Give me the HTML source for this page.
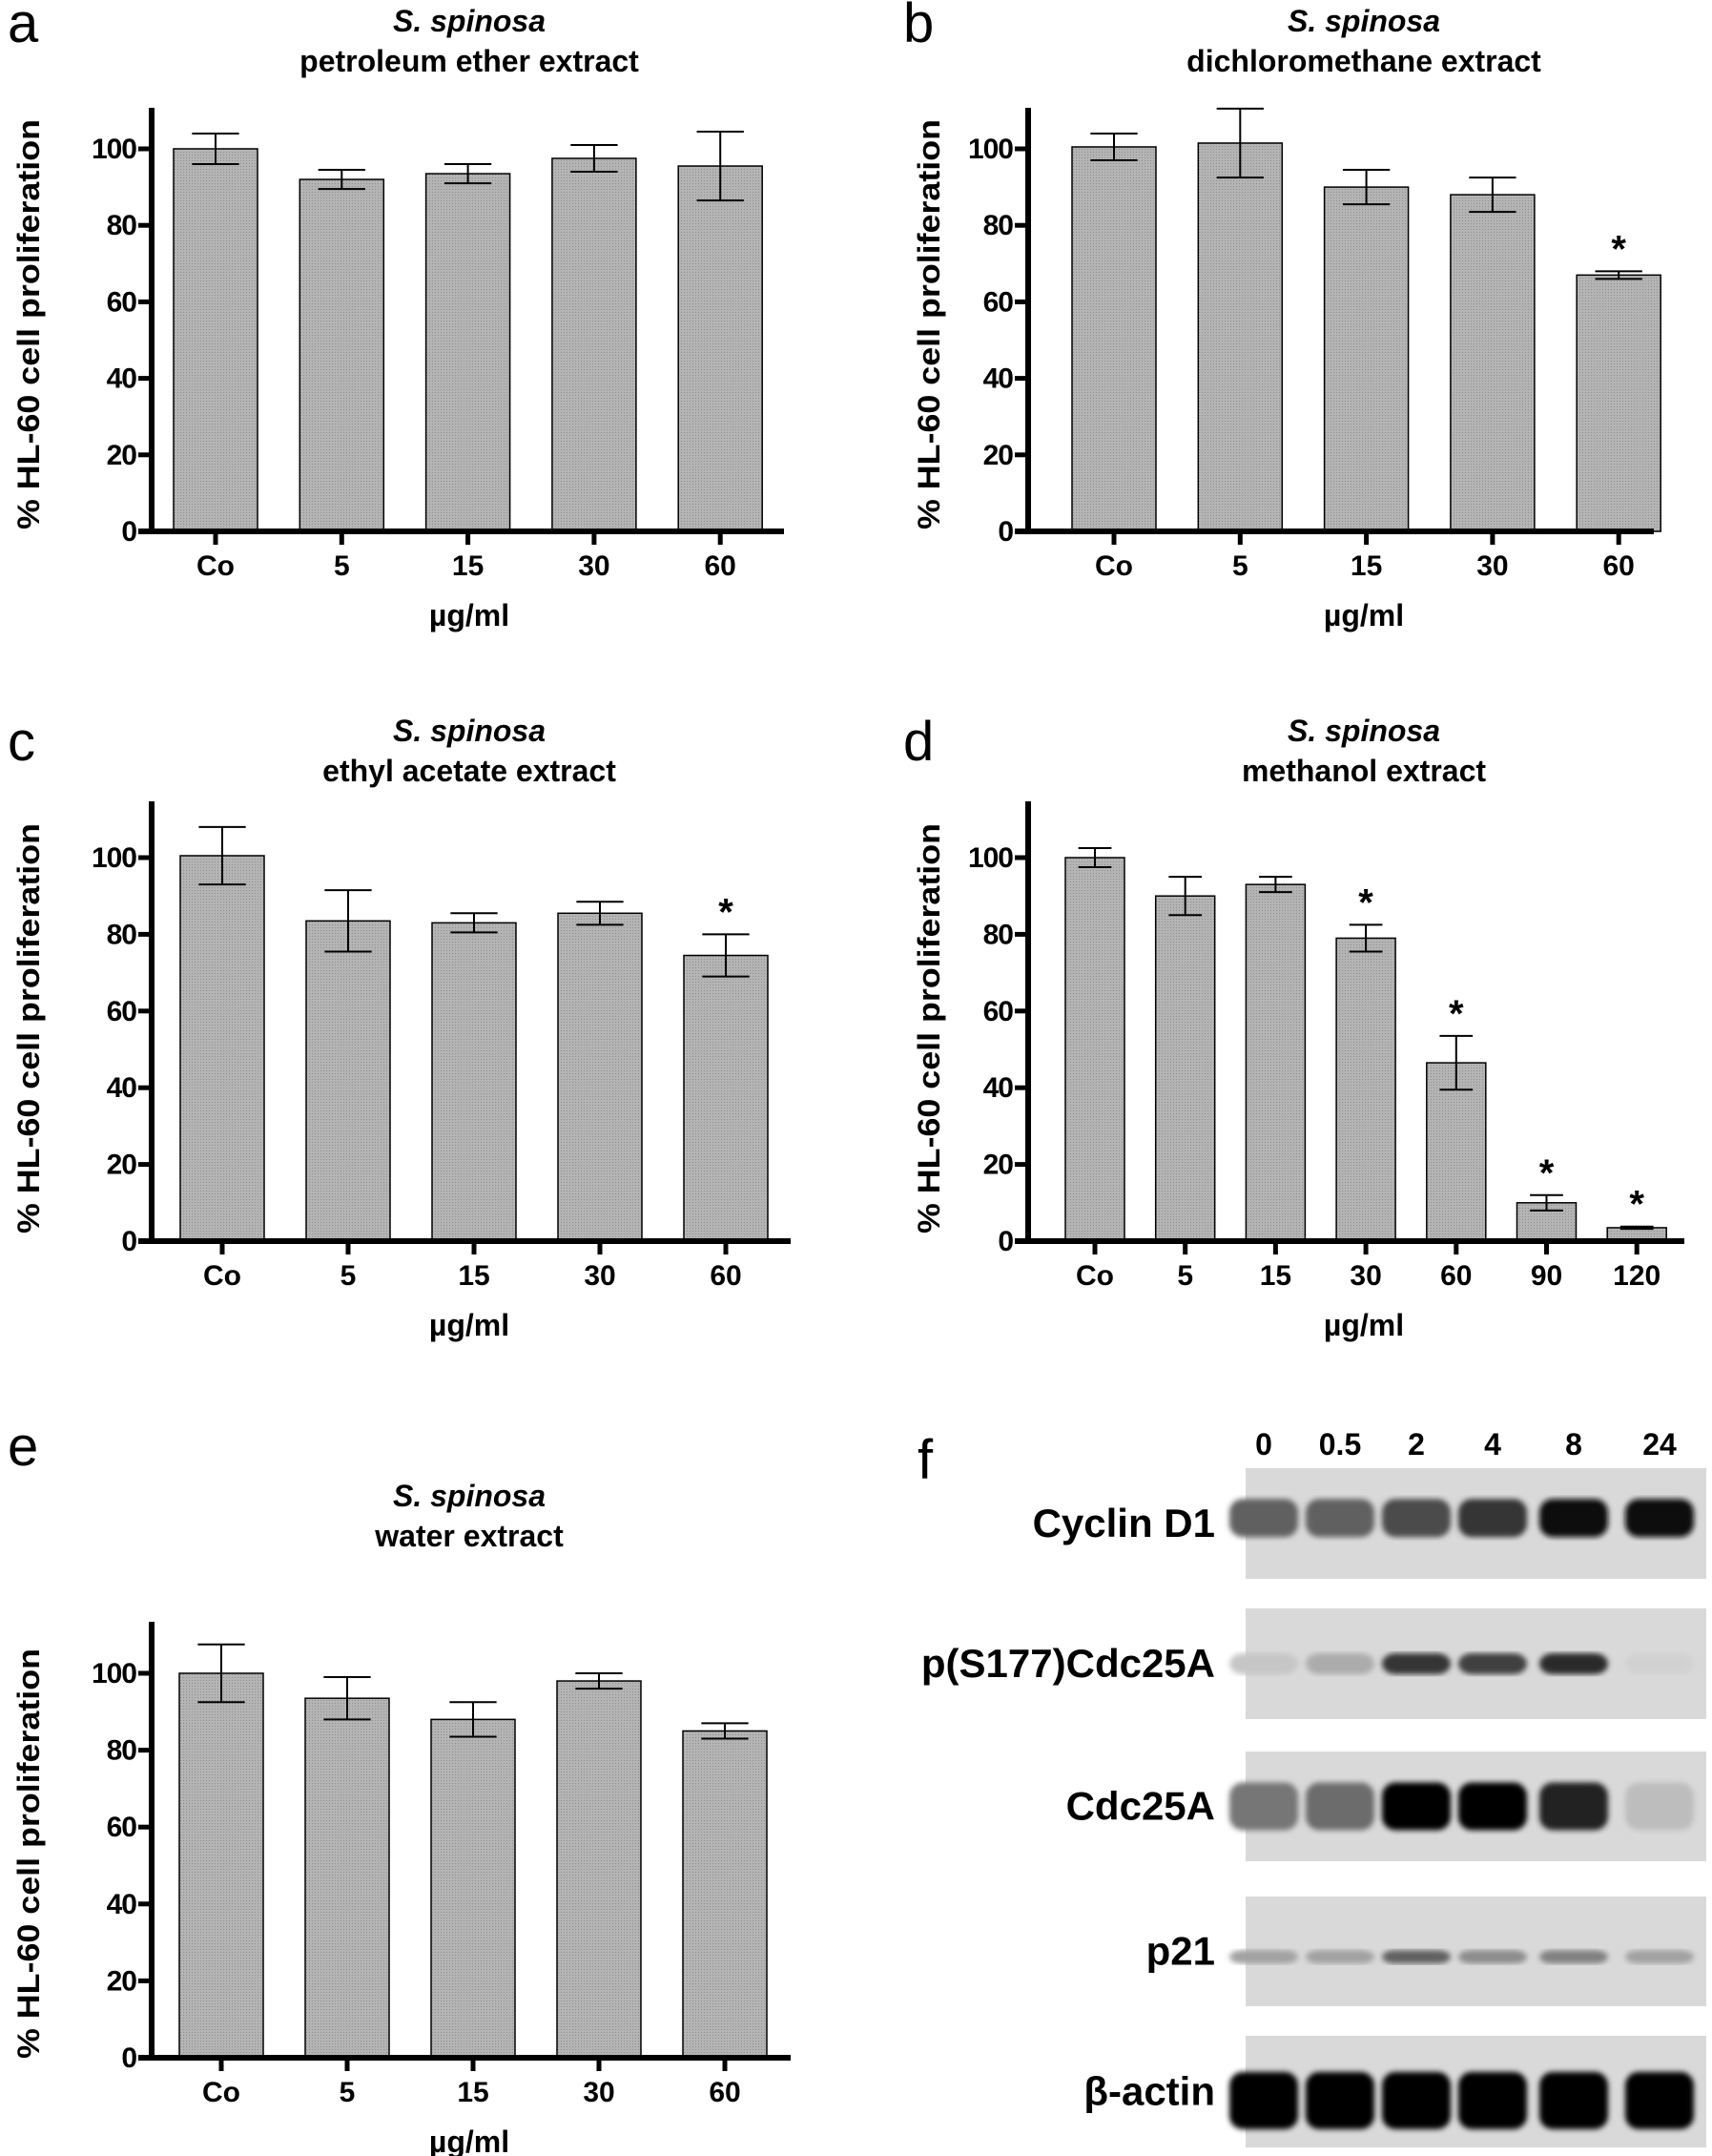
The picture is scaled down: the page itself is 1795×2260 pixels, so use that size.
<!DOCTYPE html>
<html><head><meta charset="utf-8">
<style>
html,body{margin:0;padding:0;background:#fff;}
svg{display:block;font-family:"Liberation Sans",sans-serif;}
</style></head>
<body>
<svg id="fig" width="1795" height="2260" viewBox="0 0 1795 2260" xmlns="http://www.w3.org/2000/svg">
<defs>
<pattern id="stip" width="3" height="3" patternUnits="userSpaceOnUse"><rect width="3" height="3" fill="#b4b4b4"/><rect width="1" height="1" fill="#8e8e8e"/></pattern>
<filter id="blur" x="-20%" y="-50%" width="140%" height="200%"><feGaussianBlur stdDeviation="6"/></filter>
<filter id="blur2"><feGaussianBlur stdDeviation="3"/></filter>
</defs>
</svg>
<script>
// ---- data ----
const catsA = ["Co","5","15","30","60"];
const valsA = [100,92,93.5,97.5,95.5];
const errA  = [4,2.5,2.5,3.5,9];
const sigA  = [0,0,0,0,0];
const catsB = ["Co","5","15","30","60"];
const valsB = [100.5,101.5,90,88,67];
const errB  = [3.5,9,4.5,4.5,1];
const sigB  = [0,0,0,0,1];
const catsC = ["Co","5","15","30","60"];
const valsC = [100.5,83.5,83,85.5,74.5];
const errC  = [7.5,8,2.5,3,5.5];
const sigC  = [0,0,0,0,1];
const catsD = ["Co","5","15","30","60","90","120"];
const valsD = [100,90,93,79,46.5,10,3.5];
const errD  = [2.5,5,2,3.5,7,2,0.3];
const sigD  = [0,0,0,1,1,1,1];
const catsE = ["Co","5","15","30","60"];
const valsE = [100,93.5,88,98,85];
const errE  = [7.5,5.5,4.5,2,2];
const sigE  = [0,0,0,0,0];
const yTicks = [0,20,40,60,80,100];
const lanes = ["0","0.5","2","4","8","24"];
const blotNames = ["Cyclin D1","p(S177)Cdc25A","Cdc25A","p21","β-actin"];
const cyclinInt = [0.55,0.55,0.65,0.75,0.95,0.95];
const pCdcInt  = [0.08,0.2,0.75,0.7,0.8,0.03];
const cdcInt   = [0.45,0.5,1,1,0.85,0.12];
const p21Int   = [0.25,0.25,0.55,0.35,0.4,0.25];
const actinInt = [1,1,1,1,1,1];

const NS="http://www.w3.org/2000/svg";
const svg=document.getElementById('fig');
function mk(tag,attrs,parent,text){const e=document.createElementNS(NS,tag);for(const k in attrs)e.setAttribute(k,attrs[k]);if(text!==undefined)e.textContent=text;(parent||svg).appendChild(e);return e;}

function chart(id,letter,letterPos,title2,L,cats,vals,errs,sig){
  const g=mk('g',{});
  
  
  const yS=v=>L.y0-(L.y0-L.y100)*v/100;
  const xS=i=>L.x1+i*L.dx;
  const lt=mk('text',{x:letterPos[0],y:letterPos[1],'font-size':58,fill:'#000'},g,letter);
  
  
  const t1=mk('text',{x:L.tc,y:L.ty,'font-size':32,'font-weight':'bold','font-style':'italic','text-anchor':'middle'},g,'S. spinosa');
  
  
  const t2=mk('text',{x:L.tc,y:L.ty+42,'font-size':32,'font-weight':'bold','text-anchor':'middle'},g,title2);
  
  
  vals.forEach((v,i)=>{
    const cx=xS(i);
    const r=mk('rect',{x:cx-L.bw/2,y:yS(v),width:L.bw,height:L.y0-yS(v),fill:'url(#stip)',stroke:'#000','stroke-width':1.5},g);
    
    
    const e=errs[i],hw=L.bw*0.28;
    const eb=mk('path',{d:`M${cx},${yS(v+e)}V${yS(v-e)}M${cx-hw},${yS(v+e)}H${cx+hw}M${cx-hw},${yS(v-e)}H${cx+hw}`,stroke:'#000','stroke-width':2,fill:'none'},g);
    
    
    if(sig[i]){
      const s=mk('text',{x:cx,y:yS(v+e)-10,'font-size':40,'font-weight':'bold','text-anchor':'middle'},g,'*');
      
      
    }
    const tk=mk('line',{x1:cx,x2:cx,y1:L.y0,y2:L.y0+14,stroke:'#000','stroke-width':5},g);
    
    
    const tl=mk('text',{x:cx,y:L.y0+46,'font-size':30,'font-weight':'bold','text-anchor':'middle'},g,cats[i]);
    
    
  });
  const ax=mk('path',{d:`M${L.ax},${L.top}V${L.y0}M${L.ax-14},${L.y0}H${L.right}`,stroke:'#000','stroke-width':6,fill:'none'},g);
  
  
  yTicks.forEach(t=>{
    const tk=mk('line',{x1:L.ax-14,x2:L.ax,y1:yS(t),y2:yS(t),stroke:'#000','stroke-width':5},g);
    
    
    const tl=mk('text',{x:L.ax-16,y:yS(t)+10,'font-size':30,'font-weight':'bold','text-anchor':'end','letter-spacing':-1},g,String(t));
    
    
  });
  const xl=mk('text',{x:L.tc,y:L.y0+99,'font-size':32,'font-weight':'bold','text-anchor':'middle'},g,'µg/ml');
  
  
  const yt=mk('text',{x:0,y:0,'font-size':32,'font-weight':'bold','text-anchor':'middle',textLength:430,lengthAdjust:'spacingAndGlyphs',transform:`translate(${L.yx},${L.yc}) rotate(-90)`},g,'% HL-60 cell proliferation');
  
  
}

chart('a','a',[8,44],'petroleum ether extract',{ax:159,y0:557,y100:156,top:113,right:822,x1:226,dx:132.3,bw:88,tc:492,ty:33,yx:41,yc:340},catsA,valsA,errA,sigA);
chart('b','b',[947,44],'dichloromethane extract',{ax:1078,y0:557,y100:156,top:113,right:1734,x1:1168,dx:132.3,bw:88,tc:1430,ty:33,yx:985,yc:340},catsB,valsB,errB,sigB);
chart('c','c',[8,797],'ethyl acetate extract',{ax:159,y0:1301,y100:899,top:840,right:829,x1:233,dx:132,bw:88,tc:492,ty:777,yx:41,yc:1078},catsC,valsC,errC,sigC);
chart('d','d',[947,797],'methanol extract',{ax:1078,y0:1301,y100:899,top:840,right:1766,x1:1148,dx:94.7,bw:62,tc:1430,ty:777,yx:985,yc:1078},catsD,valsD,errD,sigD);
chart('e','e',[8,1536],'water extract',{ax:159,y0:2157,y100:1754,top:1700,right:829,x1:232,dx:132,bw:88,tc:492,ty:1579,yx:41,yc:1943},catsE,valsE,errE,sigE);

// ---- western blot ----
const wb=mk('g',{});


const fl=mk('text',{x:962,y:1550,'font-size':58,fill:'#000'},wb,'f');


const laneX=[1325,1405,1485,1565,1650,1740];
lanes.forEach((l,i)=>{
  const t=mk('text',{x:laneX[i],y:1525,'font-size':32,'font-weight':'bold','text-anchor':'middle'},wb,l);
  
  
});
const boxes=[[1539,1655],[1686,1802],[1836,1951],[1988,2103],[2134,2251]];
const ints=[cyclinInt,pCdcInt,cdcInt,p21Int,actinInt];
const bandH=[40,22,50,14,60];
const bandY=[0.45,0.5,0.5,0.55,0.58];
blotNames.forEach((n,k)=>{
  const [y1,y2]=boxes[k];
  const b=mk('rect',{x:1306,y:y1,width:483,height:y2-y1,fill:'#d9d9d9'},wb);
  
  
  const cy=y1+(y2-y1)*bandY[k];
  ints[k].forEach((v,i)=>{
    const c=Math.round(215-215*v);
    const band=mk('rect',{x:laneX[i]-36,y:cy-bandH[k]/2,width:72,height:bandH[k],rx:14,fill:`rgb(${c},${c},${c})`,filter:'url(#blur2)'},wb);
    
    
  });
  const t=mk('text',{x:1274,y:(y1+y2)/2+14,'font-size':42,'font-weight':'bold','text-anchor':'end'},wb,n);
  
  
});
</script>
</body></html>
